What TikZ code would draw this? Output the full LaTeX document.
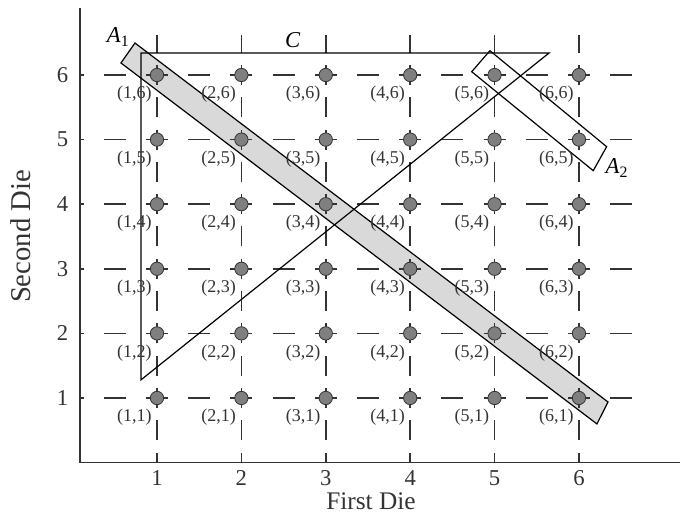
\documentclass[tikz,border=0pt]{standalone}
\usepackage{fontspec}
\setmainfont{Liberation Serif}
\definecolor{dotgray}{HTML}{7F7F7F}
\definecolor{stripgray}{HTML}{D9D9D9}
\definecolor{inkgray}{HTML}{333333}

\begin{document}
\begin{tikzpicture}[x=63.3pt, y=48.45pt,
  gridline/.style={inkgray, line width=1.1pt},
  outcome/.style={circle, draw=inkgray, fill=dotgray, line width=0.6pt, inner sep=0pt, minimum size=10pt},
  pairlabel/.style={inkgray, font=\fontsize{13.5}{15}\selectfont, inner sep=0pt},
  ticklabel/.style={inkgray, font=\fontsize{17}{19}\selectfont, inner sep=1pt},
  axistitle/.style={inkgray, font=\fontsize{21.5}{24}\selectfont},
  eventlabel/.style={font=\fontsize{17}{19}\selectfont}]
  \useasboundingbox (-0.8602,-0.796) rectangle (7.197,7.161);

  % event A1: the shaded strip along the diagonal
  \coordinate (A1a) at (0.573,6.186);
  \coordinate (A1b) at (0.739,6.495);
  \coordinate (A1c) at (6.344,0.938);
  \coordinate (A1d) at (6.213,0.598);
  \draw[fill=stripgray, line width=0.9pt] (A1a) -- (A1b) -- (A1c) -- (A1d) -- cycle;

  % dashed grid
  \foreach \k in {1,...,6} {
    \draw[gridline, dash pattern=on 16.5pt off 15.15pt, dash phase=13.82pt] (0.088,\k) -- (6.66,\k);
    \draw[gridline, dash pattern=on 15pt off 9.225pt, dash phase=7.5pt] (\k,0) -- (\k,6.62);
  }

  % axes
  \draw[inkgray, line width=1.2pt] (0.088,7.04) -- (0.088,0) -- (7.197,0);
  \foreach \k in {1,...,6} {
    \node[ticklabel] (xt\k) at (\k,-0.235) {\k};
    \node[ticklabel] (yt\k) at (-0.12,\k) {\k};
  }
  \node[axistitle, font=\fontsize{19}{22}\selectfont, anchor=base, inner sep=1pt] (xtitle) at (3.535,-0.72) {First Die};
  \node[axistitle, rotate=90] (ytitle) at (-0.62,3.5) {Second Die};

  % event A2
  \coordinate (A2a) at (4.729,6.051);
  \coordinate (A2b) at (4.945,6.376);
  \coordinate (A2c) at (6.328,4.890);
  \coordinate (A2d) at (6.169,4.519);
  \draw[line width=0.9pt] (A2a) -- (A2b) -- (A2c) -- (A2d) -- cycle;

  % event C: the triangle
  \coordinate (Ctl) at (0.81,6.34);
  \coordinate (Ctr) at (5.645,6.34);
  \coordinate (Cbl) at (0.81,1.28);
  \draw[line width=0.9pt] (Ctl) -- (Ctr) -- (Cbl) -- cycle;

  % outcomes of the two dice
  \foreach \i in {1,...,6} {
    \foreach \j in {1,...,6} {
      \node[outcome] (d\i\j) at (\i,\j) {};
      \node[pairlabel, xshift=-17pt, yshift=-14.5pt] (p\i\j) at (\i,\j) {(\i,\j)};
    }
  }

  \node[eventlabel] (lA1) at (0.54,6.59) {\textit{A}\textsubscript{1}};
  \node[eventlabel] (lA2) at (6.45,4.56) {\textit{A}\textsubscript{2}};
  \node[eventlabel] (lC) at (2.61,6.54) {\textit{C}};
\end{tikzpicture}
\end{document}
